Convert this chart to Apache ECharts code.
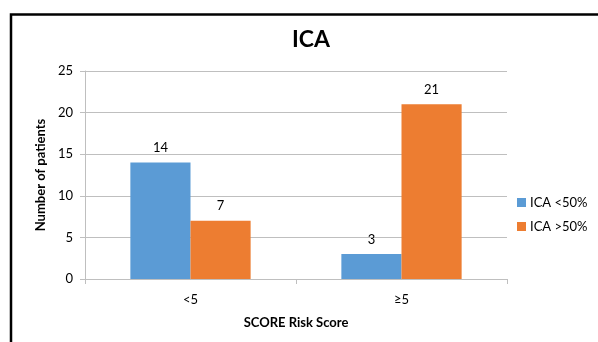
<!DOCTYPE html>
<html>
<head>
<meta charset="utf-8">
<script src="https://cdn.jsdelivr.net/npm/echarts@6/dist/echarts.min.js"></script>
<style>
  html, body { margin: 0; padding: 0; background: #fff; }
  #chart { width: 598px; height: 342px; }
</style>
</head>
<body>
<div id="chart"></div>
<script>
// Patients by SCORE risk group, split by ICA stenosis
const categories = ['<5', '\u22655'];
const icaBelow50 = [14, 3];
const icaAbove50 = [7, 21];
const seriesNames = ['ICA <50%', 'ICA >50%'];
const yTicks = { min: 0, max: 25, interval: 5 };

const FONT = 'Lato, "Open Sans", sans-serif';
const chart = echarts.init(document.getElementById('chart'));

const labelStyle = {
  show: true,
  position: 'top',
  distance: 8,
  color: '#000',
  fontSize: 13,
  fontFamily: FONT
};

chart.setOption({
  animation: false,
  textStyle: { fontFamily: FONT },
  graphic: [{
    type: 'rect',
    shape: { x: 11, y: 14.5, width: 700, height: 400 },
    style: { fill: 'none', stroke: '#000', lineWidth: 2.5 },
    silent: true
  }],
  title: {
    text: 'ICA',
    left: 306,
    top: 23,
    textAlign: 'center',
    textStyle: { fontSize: 23, fontWeight: 'bold', color: '#000', fontFamily: FONT }
  },
  legend: {
    orient: 'vertical',
    left: 512,
    top: 191,
    itemWidth: 9,
    itemHeight: 9,
    itemGap: 11,
    icon: 'rect',
    textStyle: { fontSize: 13, color: '#000', fontFamily: FONT, padding: [0, 0, 0, -1] },
    data: seriesNames
  },
  grid: { left: 85, right: 91, top: 71, bottom: 63 },
  xAxis: {
    type: 'category',
    data: categories,
    name: 'SCORE Risk Score',
    nameLocation: 'middle',
    nameGap: 37,
    nameTextStyle: { fontSize: 13, fontWeight: 'bold', color: '#000', fontFamily: FONT },
    axisLine: { lineStyle: { color: '#bfbfbf', width: 1 } },
    axisTick: { show: true, length: 5, lineStyle: { color: '#bfbfbf' } },
    axisLabel: { fontSize: 13, color: '#000', margin: 14, fontFamily: FONT }
  },
  yAxis: {
    type: 'value',
    min: yTicks.min,
    max: yTicks.max,
    interval: yTicks.interval,
    name: 'Number of patients',
    nameLocation: 'middle',
    nameGap: 33,
    nameTextStyle: { fontSize: 13, fontWeight: 'bold', color: '#000', fontFamily: FONT },
    axisLine: { show: true, lineStyle: { color: '#bfbfbf', width: 1 } },
    axisTick: { show: true, length: 5, lineStyle: { color: '#bfbfbf' } },
    splitLine: { lineStyle: { color: '#bfbfbf', width: 1 } },
    axisLabel: { fontSize: 13, color: '#000', margin: 12, fontFamily: FONT }
  },
  series: [
    {
      name: seriesNames[0],
      type: 'bar',
      data: icaBelow50,
      barGap: '0%',
      barCategoryGap: '43%',
      itemStyle: { color: '#5b9bd5' },
      label: labelStyle
    },
    {
      name: seriesNames[1],
      type: 'bar',
      data: icaAbove50,
      itemStyle: { color: '#ed7d31' },
      label: labelStyle
    }
  ]
});
</script>
</body>
</html>
